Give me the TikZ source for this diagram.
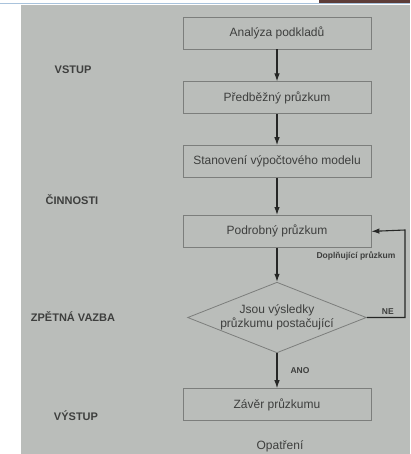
\documentclass[tikz,border=0pt]{standalone}
\usepackage{fontspec}
\setmainfont{Liberation Sans}
\usepackage{xcolor}
\definecolor{SurveyPaper}{HTML}{BABDBA}
\definecolor{SurveyLine}{HTML}{7C7E7C}
\definecolor{SurveyInk}{HTML}{3E3F3E}
\definecolor{SurveyArrow}{HTML}{262726}
\definecolor{ScreenBlue}{HTML}{A9C3DC}
\definecolor{ScreenBar}{HTML}{5C3C38}
\usepackage{tikz}
\usetikzlibrary{positioning,arrows.meta,shapes.geometric,calc}
\tikzset{
  sbox/.style={draw=SurveyLine,line width=0.8pt,minimum width=188pt,minimum height=32pt,inner sep=0pt,align=center,font=\fontsize{12}{14.5}\selectfont,text=SurveyInk},
  sdecide/.style={diamond,draw=SurveyLine,line width=0.8pt,aspect=2.53,inner sep=0pt,align=center,font=\fontsize{12}{14.5}\selectfont,text=SurveyInk},
  sphase/.style={font=\bfseries\fontsize{11}{13}\selectfont,text=SurveyInk},
  snote/.style={font=\bfseries\fontsize{8.5}{10}\selectfont,text=SurveyInk,inner sep=1pt},
  splain/.style={font=\fontsize{12}{14.5}\selectfont,text=SurveyInk},
  sflow/.style={-{Latex[length=8pt,width=5.5pt]},draw=SurveyArrow,line width=1.1pt}
}

\begin{document}
\begin{tikzpicture}[x=1pt,y=1pt,node distance=32pt]
  \fill[white] (0,0) rectangle (410,-454);
  \useasboundingbox (0,0) rectangle (410,-454);
  \fill[SurveyPaper] (21,-5) rectangle (410,-454);
  \fill[ScreenBar] (319,0) rectangle (410,-3.5);
  \draw[ScreenBlue,line width=1pt] (0,-4) -- (410,-4);

  \node[sbox] (basis) at (277,-33) {Analýza podkladů};
  \node[sbox,below=32pt of basis] (prelim) {Předběžný průzkum};
  \node[sbox,below=31pt of prelim] (model) {Stanovení výpočtového modelu};
  \node[sbox,below=37pt of model] (detail) {Podrobný průzkum};
  \node[sdecide,below=34pt of detail] (check) {Jsou výsledky\\průzkumu postačující};
  \node[sbox,below=35pt of check] (result) {Závěr průzkumu};
  \node[splain] (measure) at (280,-446) {Opatření};

  \node[sphase] (input) at (73,-70) {VSTUP};
  \node[sphase] (tasks) at (72,-200) {ČINNOSTI};
  \node[sphase] (feedback) at (73,-317) {ZPĚTNÁ VAZBA};
  \node[sphase] (output) at (76,-416) {VÝSTUP};

  \coordinate (loop) at (405,-230);

  \draw[sflow] (basis) -- (prelim);
  \draw[sflow] (prelim) -- (model);
  \draw[sflow] (model) -- (detail);
  \draw[sflow] (detail) -- (check);
  \draw[sflow] (check) -- node[snote,right=12pt]{ANO} (result);
  \draw[sflow] (check.east) -- node[snote,above=1pt,pos=0.55]{NE} (check.east -| loop)
    -- node[snote,left=8pt,pos=0.7]{Doplňující průzkum} (loop) -- (detail.east);
\end{tikzpicture}
\end{document}
